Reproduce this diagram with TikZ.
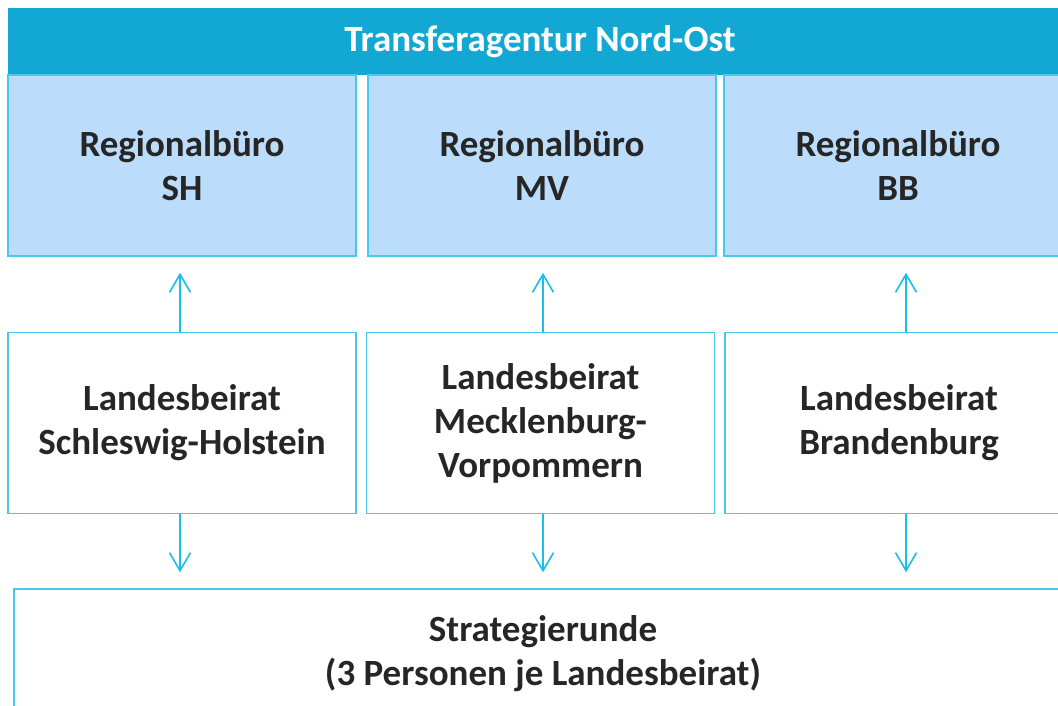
\documentclass[tikz,border=0pt]{standalone}
\usepackage{fontspec}
\setmainfont{Carlito}
\usetikzlibrary{arrows.meta}
\definecolor{headblue}{RGB}{19,168,212}
\definecolor{boxblue}{RGB}{187,221,251}
\definecolor{lineblue}{RGB}{70,200,240}
\definecolor{arrowblue}{RGB}{25,190,235}
\definecolor{txtgray}{RGB}{38,38,38}

\begin{document}
\begin{tikzpicture}[x=1pt,y=-1pt,
    box/.style={draw=lineblue, line width=1.5pt, minimum width=348pt, minimum height=181pt, inner sep=0pt, align=center, text=txtgray, font=\bfseries\fontsize{37}{44}\selectfont},
    buero/.style={box, fill=boxblue},
    beirat/.style={box, fill=white},
    link/.style={arrowblue, line width=1.6pt, -{Straight Barb[length=18pt,width=21pt]}, shorten >=16pt}]
    \useasboundingbox (0,0) rectangle (1058,705);
    \coordinate (T0) at (540,41.5);
    \coordinate (B1) at (182,165.5);
    \coordinate (B2) at (542,165.5);
    \coordinate (B3) at (898,165.5);
    \coordinate (L1) at (182,423);
    \coordinate (L2) at (540.5,423);
    \coordinate (L3) at (899,423);
    \coordinate (S0) at (543,654);
    % Pfeilachsen
    \coordinate (A1) at (180,0);
    \coordinate (A2) at (543,0);
    \coordinate (A3) at (906,0);

    % Kopfzeile
    \node[fill=headblue, minimum width=1064pt, minimum height=67pt, inner sep=0pt, text=white, font=\bfseries\fontsize{37}{44}\selectfont] (head) at (T0) {Transferagentur Nord-Ost};

    \node[buero] (rbSH) at (B1) {Regionalbüro\\SH};
    \node[buero] (rbMV) at (B2) {Regionalbüro\\MV};
    \node[buero] (rbBB) at (B3) {Regionalbüro\\BB};

    \node[beirat] (lbSH) at (L1) {Landesbeirat\\Schleswig-Holstein};
    \node[beirat] (lbMV) at (L2) {Landesbeirat\\Mecklenburg-\\Vorpommern};
    \node[beirat] (lbBB) at (L3) {Landesbeirat\\Brandenburg};

    \node[beirat, minimum width=1058pt, minimum height=130pt] (strat) at (S0) {Strategierunde\\(3 Personen je Landesbeirat)};

    \draw[link] (A1 |- lbSH.north) -- (A1 |- rbSH.south);
    \draw[link] (A2 |- lbMV.north) -- (A2 |- rbMV.south);
    \draw[link] (A3 |- lbBB.north) -- (A3 |- rbBB.south);
    \draw[link] (A1 |- lbSH.south) -- (A1 |- strat.north);
    \draw[link] (A2 |- lbMV.south) -- (A2 |- strat.north);
    \draw[link] (A3 |- lbBB.south) -- (A3 |- strat.north);
\end{tikzpicture}
\end{document}
